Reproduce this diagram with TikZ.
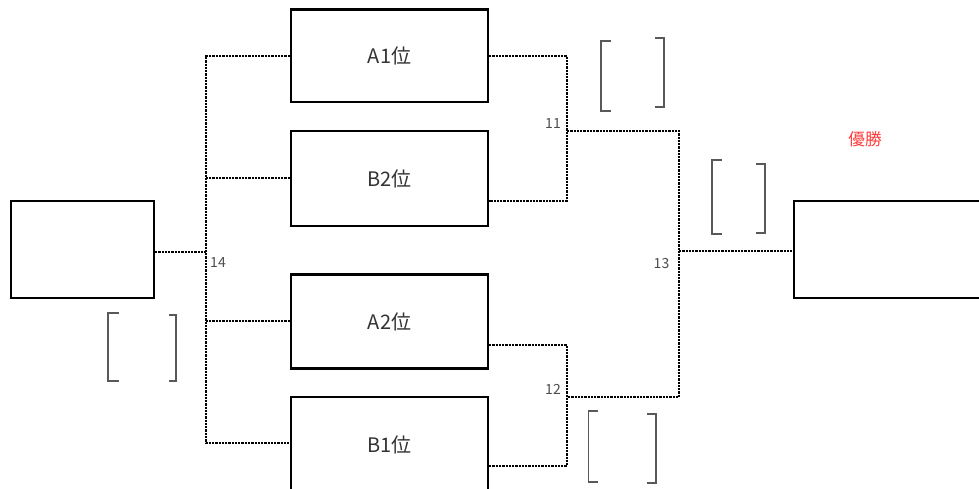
\documentclass[tikz,border=0pt]{standalone}
\usepackage{fontspec}
\setmainfont{Noto Sans CJK JP}
\begin{document}
\begin{tikzpicture}[x=0.75pt,y=-0.75pt,
  box/.style={draw=black,line width=1.7pt,fill=white,inner sep=0pt,minimum width=197*0.75pt,text=black!80,font=\fontsize{15}{18}\selectfont},
  dot/.style={line width=1.7pt,dash pattern=on 1.7pt off 0.75pt},
  brk/.style={draw=black!65,line width=0.8pt},
  num/.style={text=black!70,font=\fontsize{10.5}{12}\selectfont,inner sep=0pt}]
\useasboundingbox (0,0) rectangle (979,489);
\clip (0,0) rectangle (979,489);
% boxes
\node[box,minimum height=92.5*0.75pt] (a1) at (389.5,55.75) {A1位};
\node[box,minimum height=95*0.75pt] (b2) at (389.5,178.5) {B2位};
\node[box,minimum height=94*0.75pt] (a2) at (389.5,321.5) {A2位};
\node[box,minimum height=95*0.75pt] (b1) at (389.5,444.5) {B1位};
\node[box,minimum width=143*0.75pt,minimum height=97*0.75pt] (lbox) at (82.5,249.5) {};
\node[box,minimum width=200*0.75pt,minimum height=97*0.75pt] (rbox) at (894,249.5) {};
% junctions
\coordinate (L1) at (206,56);
\coordinate (L2) at (206,178);
\coordinate (L3) at (206,321);
\coordinate (L4) at (206,443);
\coordinate (L0) at (206,252);
\coordinate (R1) at (567,56);
\coordinate (R1m) at (567,131);
\coordinate (R1b) at (567,201);
\coordinate (R2) at (567,345);
\coordinate (R2m) at (567,397);
\coordinate (R2b) at (567,466);
\coordinate (F1) at (679,131);
\coordinate (F2) at (679,397);
\coordinate (Fm) at (679,251);
% left tree
\draw[dot] (a1.west |- L1) -- (L1) -- (L4) -- (b1.west |- L4);
\draw[dot] (b2.west |- L2) -- (L2);
\draw[dot] (a2.west |- L3) -- (L3);
\draw[dot] (lbox.east |- L0) -- (L0);
% right tree
\draw[dot] (a1.east |- R1) -- (R1) -- (R1b) -- (b2.east |- R1b);
\draw[dot] (a2.east |- R2) -- (R2) -- (R2b) -- (b1.east |- R2b);
\draw[dot] (R1m) -- (F1) -- (F2) -- (R2m);
\draw[dot] (Fm) -- (rbox.west |- Fm);
% labels
\node[num] (n14) at (218,263) {14};
\node[num] (n11) at (553,123.5) {11};
\node[num] (n12) at (553,389) {12};
\node[num] (n13) at (661.5,263.5) {13};
\node[text={rgb,255:red,255;green,60;blue,60},font=\fontsize{12.5}{15}\selectfont,inner sep=0pt] (win) at (865,139) {優勝};
% brackets
\draw[brk] (611,41) -- (601,41) -- (601,111) -- (611,111);
\draw[brk] (655,38) -- (664,38) -- (664,107) -- (655,107);
\draw[brk] (722,160) -- (712,160) -- (712,234) -- (722,234);
\draw[brk] (756,164) -- (765,164) -- (765,233) -- (756,233);
\draw[brk] (119,313) -- (108,313) -- (108,381) -- (119,381);
\draw[brk] (169,315) -- (176,315) -- (176,381) -- (169,381);
\draw[brk] (598,411) -- (588.5,411) -- (588.5,482) -- (598,482);
\draw[brk] (647,414) -- (656,414) -- (656,483) -- (647,483);
\end{tikzpicture}
\end{document}
